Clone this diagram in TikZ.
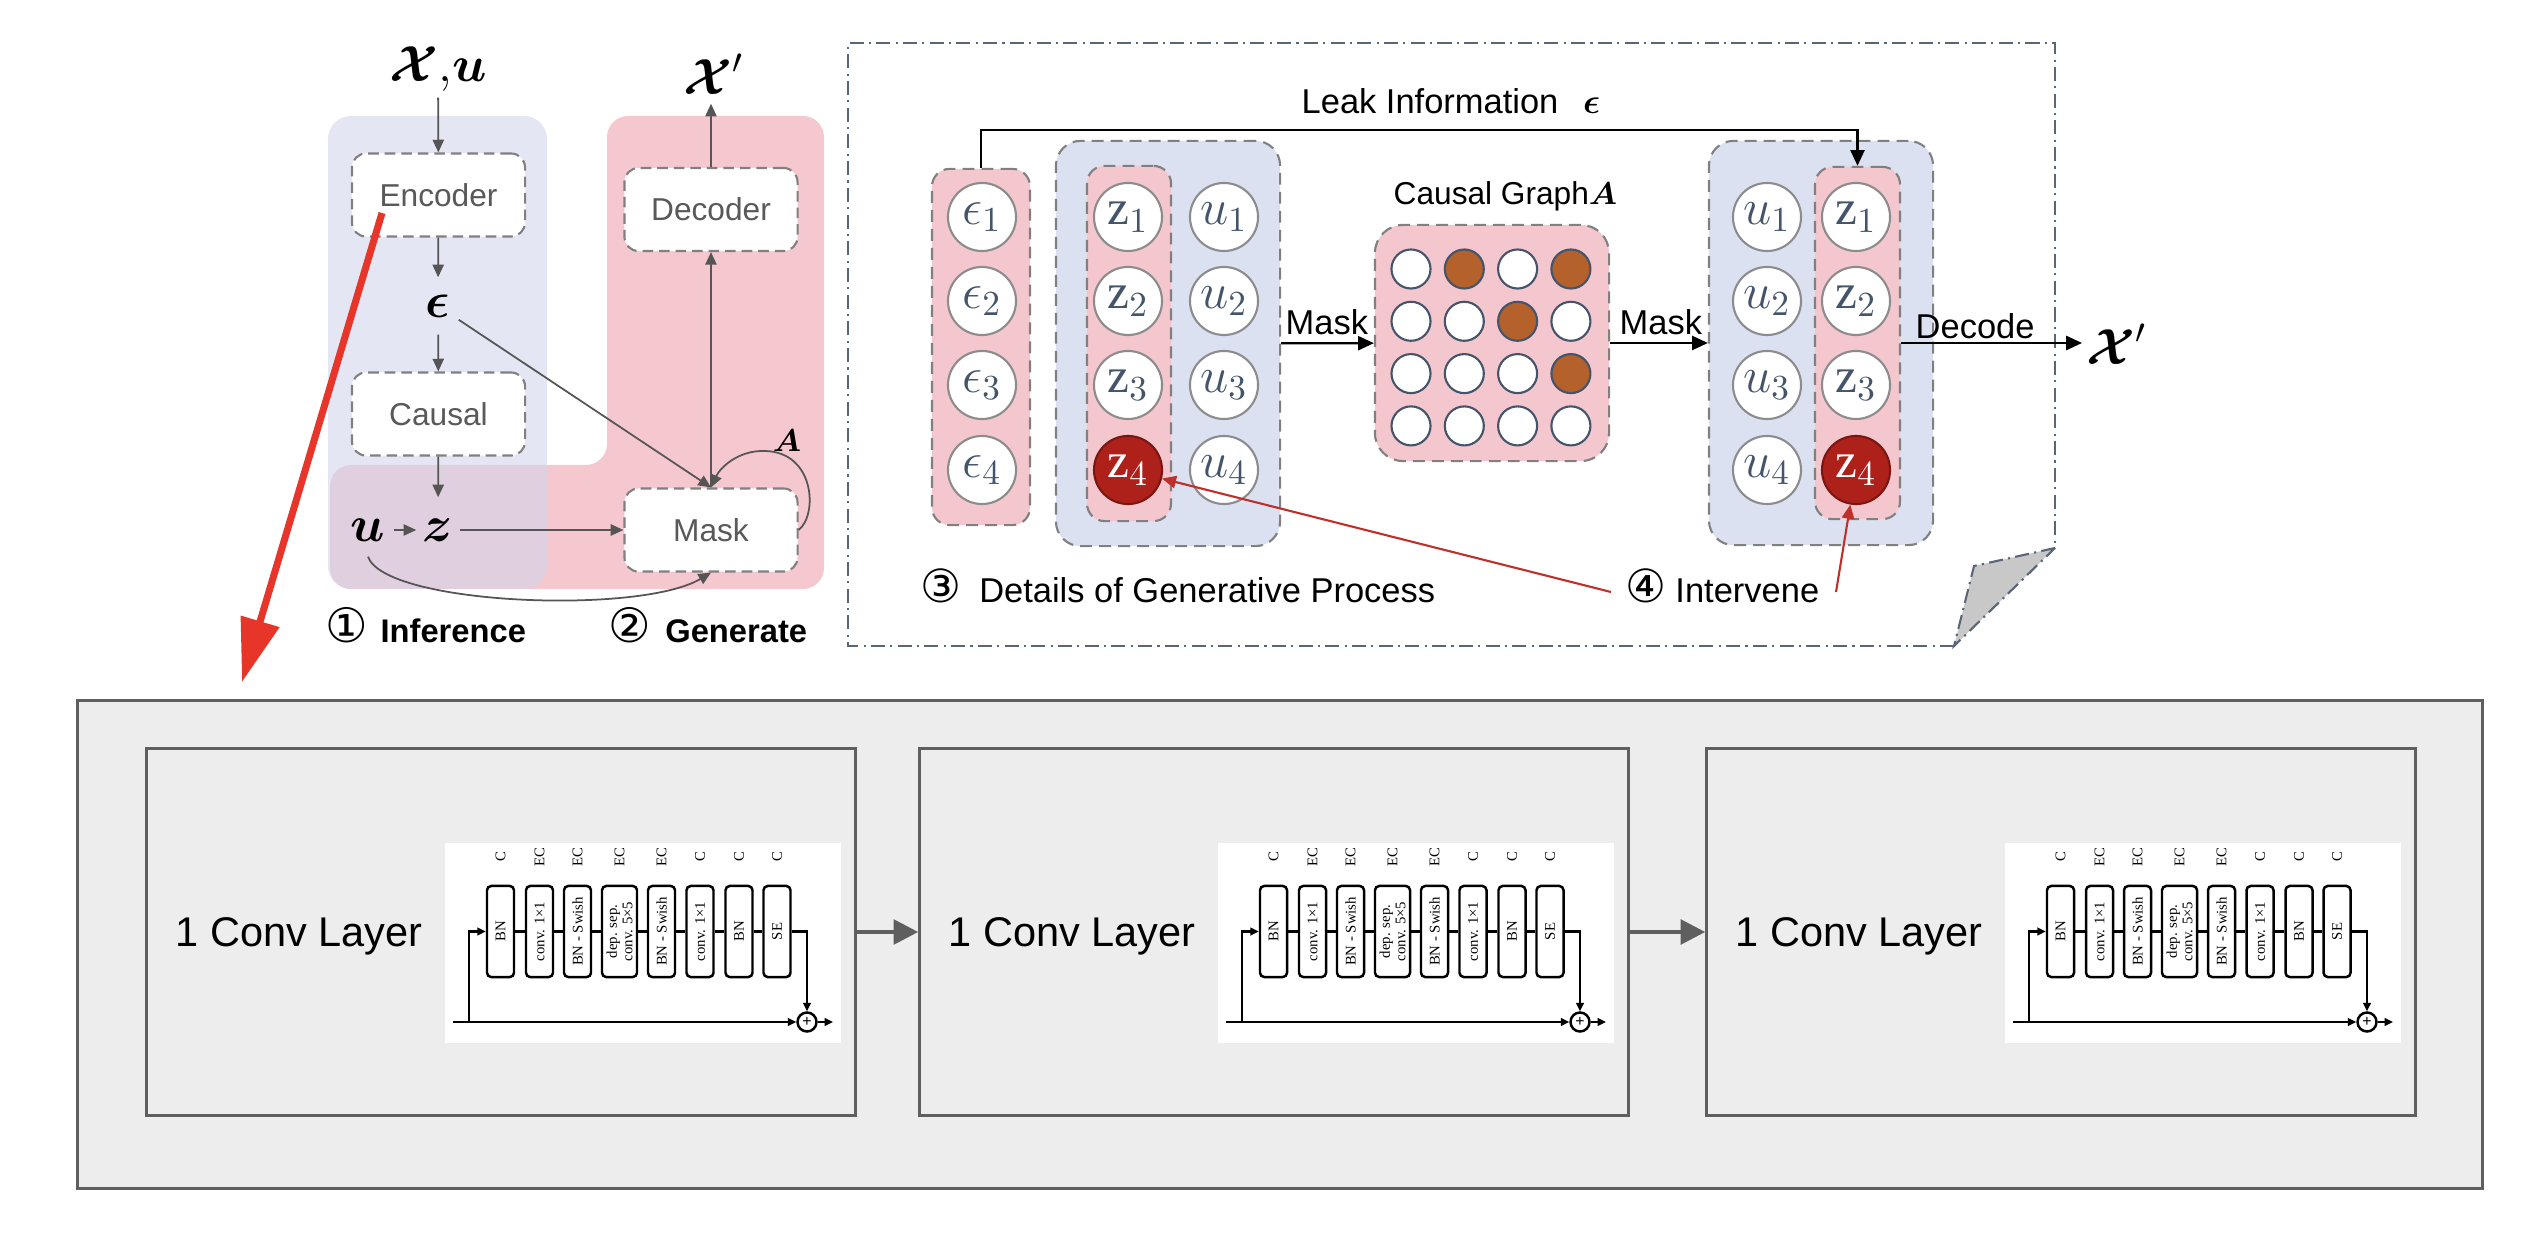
\documentclass[tikz,border=0pt]{standalone}
\usepackage{amsmath}
\usepackage{fontspec}
\setmainfont{Liberation Sans}
\newfontfamily\serifblk{Liberation Serif}
\newfontfamily\dejavu{DejaVu Sans}
\usetikzlibrary{arrows.meta}
\definecolor{pinkbg}{HTML}{F5C7CE}
\definecolor{bluebase}{HTML}{D2D7EB}
\definecolor{bluegrp}{HTML}{DCE1F1}
\definecolor{pinkcol}{HTML}{F4C7CE}
\definecolor{dashgray}{HTML}{808080}
\definecolor{txtgray}{HTML}{595959}
\definecolor{arrgray}{HTML}{555555}
\definecolor{circgray}{HTML}{8C8C8C}
\definecolor{slate}{HTML}{44546A}
\definecolor{brownc}{HTML}{B5612B}
\definecolor{darkred}{HTML}{AE211B}
\definecolor{bigred}{HTML}{E8352A}
\definecolor{ivred}{HTML}{C0302A}
\definecolor{framec}{HTML}{5A6577}
\definecolor{foldgray}{HTML}{C8C8C8}
\definecolor{panelgray}{HTML}{EDEDED}
\definecolor{panelline}{HTML}{5F5F5F}
\newcommand{\zvar}{\text{\serifblk z}}
\tikzset{
  blk/.style={draw=black, line width=0.7pt, rounded corners=1.2pt, rotate=90, minimum width=0.91cm, inner sep=0pt, align=center, fill=white, font=\serifblk\fontsize{4.2}{4.4}\selectfont},
  tlab/.style={rotate=90, inner sep=0pt, font=\serifblk\fontsize{4.2}{4.4}\selectfont},
  barr/.style={line width=0.7pt, -{Triangle[length=2.4pt,width=2.2pt]}},
  convblk/.pic={
    \node[fill=white, minimum width=3.96cm, minimum height=2cm, inner sep=0pt, anchor=north west] (w) at (0,0) {};
    \node[tlab] (l1) at (56.5,15) {C};
    \node[tlab] (l2) at (95.5,15) {EC};
    \node[tlab] (l3) at (133.5,15) {EC};
    \node[tlab] (l4) at (175.5,15) {EC};
    \node[tlab] (l5) at (217.5,15) {EC};
    \node[tlab] (l6) at (256,15) {C};
    \node[tlab] (l7) at (295,15) {C};
    \node[tlab] (l8) at (333,15) {C};
    \node[blk, minimum height=0.27cm] (b1) at (56.5,89.5) {BN};
    \node[blk, minimum height=0.27cm] (b2) at (95.5,89.5) {conv. 1×1};
    \node[blk, minimum height=0.27cm] (b3) at (133.5,89.5) {BN - Swish};
    \node[blk, minimum height=0.35cm] (b4) at (175.5,89.5) {dep. sep.\\conv. 5×5};
    \node[blk, minimum height=0.27cm] (b5) at (217.5,89.5) {BN - Swish};
    \node[blk, minimum height=0.27cm] (b6) at (256,89.5) {conv. 1×1};
    \node[blk, minimum height=0.27cm] (b7) at (295,89.5) {BN};
    \node[blk, minimum height=0.27cm] (b8) at (333,89.5) {SE};
    \draw[line width=0.7pt] (b1) -- (b2) -- (b3) -- (b4) -- (b5) -- (b6) -- (b7) -- (b8);
    \coordinate (in) at (9,180);
    \coordinate (br) at (25,180);
    \coordinate (out) at (389,180);
    \node[circle, draw, line width=0.7pt, minimum size=0.19cm, inner sep=0pt, font=\fontsize{4.5}{5}\selectfont] (pl) at (363,180) {+};
    \draw[barr] (in) -- (pl);
    \draw[barr] (br) |- (b1);
    \draw[barr] (b8) -| (pl);
    \draw[barr] (pl) -- (out);
  }
}
\begin{document}
\begin{tikzpicture}[x=0.01cm,y=-0.01cm,
  txt/.style={inner sep=0pt},
  lbl/.style={inner sep=0pt, font=\fontsize{9.8}{11}\selectfont},
  gbox/.style={draw=dashgray, dash pattern=on 3pt off 1.7pt, line width=0.6pt, fill=white, rounded corners=4pt, minimum width=1.73cm, minimum height=0.83cm, inner sep=0pt, text=txtgray, font=\fontsize{9}{11}\selectfont},
  garr/.style={draw=arrgray, line width=0.5pt, -{Triangle[length=3.6pt,width=3.2pt]}},
  karr/.style={draw=black, line width=0.65pt, -{Triangle[length=4.5pt,width=4pt]}},
  rarr/.style={draw=ivred, line width=0.6pt, -{Triangle[length=4pt,width=3.5pt]}},
  grp/.style={draw=dashgray, dash pattern=on 3.4pt off 2pt, line width=0.6pt, rounded corners=7pt, inner sep=0pt},
  circ/.style={circle, draw=circgray, fill=white, line width=0.6pt, minimum size=0.68cm, inner sep=0pt, text=slate, font=\fontsize{14}{16}\selectfont},
  hot/.style={circ, fill=darkred, draw=darkred!70!black, text=white},
  cgdot/.style={circle, draw=slate, line width=0.6pt, minimum size=0.39cm, inner sep=0pt},
  fdash/.style={draw=framec, line width=0.6pt, dash pattern=on 4pt off 1.5pt on 0.6pt off 1.5pt},
  lay/.style={draw=panelline, line width=0.9pt, fill=panelgray, minimum width=7.08cm, minimum height=3.66cm, inner sep=0pt},
  bigarr/.style={draw=panelline, line width=1.1pt, -{Triangle[length=7pt,width=7pt]}},
  cl/.style={anchor=base west, inner sep=0pt, font=\fontsize{11.8}{14}\selectfont}
]
\useasboundingbox (0,0) rectangle (2524,1234);

% ---------- top-left panels ----------
\fill[pinkbg, rounded corners=6pt] (330,465) -- (607,465) -- (607,116) -- (824,116) -- (824,589) -- (330,589) -- cycle;
\fill[bluebase, fill opacity=0.6, rounded corners=6.5pt] (328,116) rectangle (547,589);

\node[txt, minimum height=0.56cm, font=\fontsize{14}{16}\selectfont] (xu) at (438,69) {$\boldsymbol{\mathcal{X}}{,}\boldsymbol{u}$};
\node[gbox] (enc) at (438.5,195) {Encoder};
\node[txt, minimum height=0.56cm, minimum width=0.4cm, font=\fontsize{15}{17}\selectfont] (eps) at (438,306) {$\boldsymbol{\epsilon}$};
\node[gbox] (caus) at (438.5,414) {Causal};
\node[txt, minimum height=0.64cm, minimum width=0.42cm, font=\fontsize{15}{17}\selectfont] (zz) at (438,530) {$\boldsymbol{z}$};
\node[txt, minimum height=0.52cm, minimum width=0.5cm, font=\fontsize{15}{17}\selectfont] (uu) at (368,530) {$\boldsymbol{u}$};
\node[gbox] (mask) at (711,530) {Mask};
\node[gbox] (dec) at (711,209.5) {Decoder};
\node[txt, minimum height=0.58cm, font=\fontsize{14}{16}\selectfont] (xp) at (714,74) {$\boldsymbol{\mathcal{X}}'$};
\node[txt, font=\fontsize{9}{10}\selectfont] (Alab) at (787,441) {$\boldsymbol{A}$};

\draw[garr] (xu) -- (enc);
\draw[garr] (enc) -- (eps);
\draw[garr] (eps) -- (caus);
\draw[garr] (caus) -- (zz);
\draw[garr] (uu) -- (zz);
\draw[garr] (zz) -- (zz -| mask.west);
\draw[garr] (eps) -- (mask.north);
\draw[garr] (mask.north) -- (dec.south);
\draw[garr] (dec.north) -- (dec.north |- xp.south);
\draw[garr] (mask.east) .. controls (818,515) and (815,452) .. (765,451) .. controls (738,450) and (720,468) .. (mask.north);
\draw[garr] (uu.south) .. controls (385,605) and (640,615) .. (mask.south);

\node[anchor=base west, inner sep=0pt, font=\fontsize{9.3}{11}\selectfont\bfseries] (inf) at (325,643) {{\dejavu\mdseries\fontsize{13.5}{14}\selectfont ①}\hspace{3.5pt}Inference};
\node[anchor=base west, inner sep=0pt, font=\fontsize{9.3}{11}\selectfont\bfseries] (gen) at (608,643) {{\dejavu\mdseries\fontsize{13.5}{14}\selectfont ②}\hspace{4pt}Generate};

% ---------- right frame ----------
\draw[fdash] (1954,646) -- (848,646) -- (848,43) -- (2055,43) -- (2055,548);
\filldraw[fdash, fill=foldgray] (2055,548) -- (1974,566) -- (1954,646) -- cycle;

\node[grp, fill=pinkcol, rounded corners=5pt, minimum width=0.98cm, minimum height=3.56cm] (epsbox) at (981,347) {};
\node[grp, fill=bluegrp, minimum width=2.24cm, minimum height=4.05cm] (blueL) at (1168,343.5) {};
\node[grp, fill=pinkcol, rounded corners=5pt, minimum width=0.84cm, minimum height=3.55cm] (zcolL) at (1129,343.5) {};
\node[grp, fill=pinkcol, rounded corners=8pt, minimum width=2.34cm, minimum height=2.36cm] (cgraph) at (1492,343) {};
\node[grp, fill=bluegrp, minimum width=2.24cm, minimum height=4.04cm] (blueR) at (1821,343) {};
\node[grp, fill=pinkcol, rounded corners=5pt, minimum width=0.85cm, minimum height=3.52cm] (zcolR) at (1857.5,343) {};

\foreach \i/\y in {1/217,2/301,3/385,4/470} {
  \node[circ] (e\i) at (982,\y) {$\epsilon_{\i}$};
  \node[circ] (uL\i) at (1224,\y) {$u_{\i}$};
  \node[circ] (uR\i) at (1767,\y) {$u_{\i}$};
}
\foreach \i/\y in {1/217,2/301,3/385} {
  \node[circ] (zL\i) at (1128,\y) {$\zvar_{\i}$};
  \node[circ] (zR\i) at (1856,\y) {$\zvar_{\i}$};
}
\node[hot] (zL4) at (1128,470) {$\zvar_4$};
\node[hot] (zR4) at (1856,470) {$\zvar_4$};

\foreach \r/\c/\f in {1/1/white,1/2/brownc,1/3/white,1/4/brownc,
                      2/1/white,2/2/white,2/3/brownc,2/4/white,
                      3/1/white,3/2/white,3/3/white,3/4/brownc,
                      4/1/white,4/2/white,4/3/white,4/4/white} {
  \node[cgdot, fill=\f] (g\r\c) at ({1411+(\c-1)*53.3},{269+(\r-1)*52.3}) {};
}

\node[anchor=base west, lbl] (leak) at (1301,114) {Leak Information\hspace{7pt}$\boldsymbol{\epsilon}$};
\node[anchor=base west, inner sep=0pt, font=\fontsize{9}{11}\selectfont] (cgl) at (1393,205) {Causal Graph$\boldsymbol{A}$};
\node[anchor=base west, lbl] (m1) at (1285,335) {Mask};
\node[anchor=base west, lbl] (m2) at (1619,335) {Mask};
\node[anchor=base west, lbl] (decl) at (1915,339) {Decode};
\node[anchor=west, inner sep=1pt, font=\fontsize{14}{16}\selectfont] (xr) at (2082,344) {$\boldsymbol{\mathcal{X}}'$};

\draw[karr] (epsbox.north) -- ++(0,-38) -| (zcolR.north);
\draw[karr] (blueL) -- (cgraph);
\draw[karr] (cgraph) -- (blueR);
\draw[karr] (zcolR.east) -- (zcolR.east -| xr.west);

\node[anchor=base west, lbl] (det) at (920,603) {{\dejavu\fontsize{13}{14}\selectfont ③}\hspace{5pt}Details of Generative Process};
\node[anchor=base west, lbl] (intv) at (1625,603) {{\dejavu\fontsize{13}{14}\selectfont ④}\hspace{2.5pt}Intervene};
\coordinate (iv1) at (1611,592);
\coordinate (iv2) at (1836,592);
\draw[rarr] (iv1) -- (zL4);
\draw[rarr] (iv2) -- (zR4);

% ---------- bottom ----------
\node[draw=panelline, line width=0.9pt, fill=panelgray, minimum width=24.04cm, minimum height=4.87cm, inner sep=0pt] (outer) at (1280,944.5) {};
\node[lay] (L1) at (501,932) {};
\node[lay] (L2) at (1274,932) {};
\node[lay] (L3) at (2061,932) {};
\pic (cbA) at (444,842) {convblk};
\pic (cbB) at (1217,842) {convblk};
\pic (cbC) at (2004,842) {convblk};
\node[cl] (cl1) at (175,946) {1 Conv Layer};
\node[cl] (cl2) at (948,946) {1 Conv Layer};
\node[cl] (cl3) at (1735,946) {1 Conv Layer};
\draw[bigarr] (L1) -- (L2);
\draw[bigarr] (L2) -- (L3);

% ---------- big red arrow ----------
\coordinate (rs) at (382,213);
\coordinate (re) at (242,682);
\draw[draw=bigred, line width=2pt, -{Triangle[length=18pt,width=11pt]}] (rs) -- (re);
\end{tikzpicture}
\end{document}
